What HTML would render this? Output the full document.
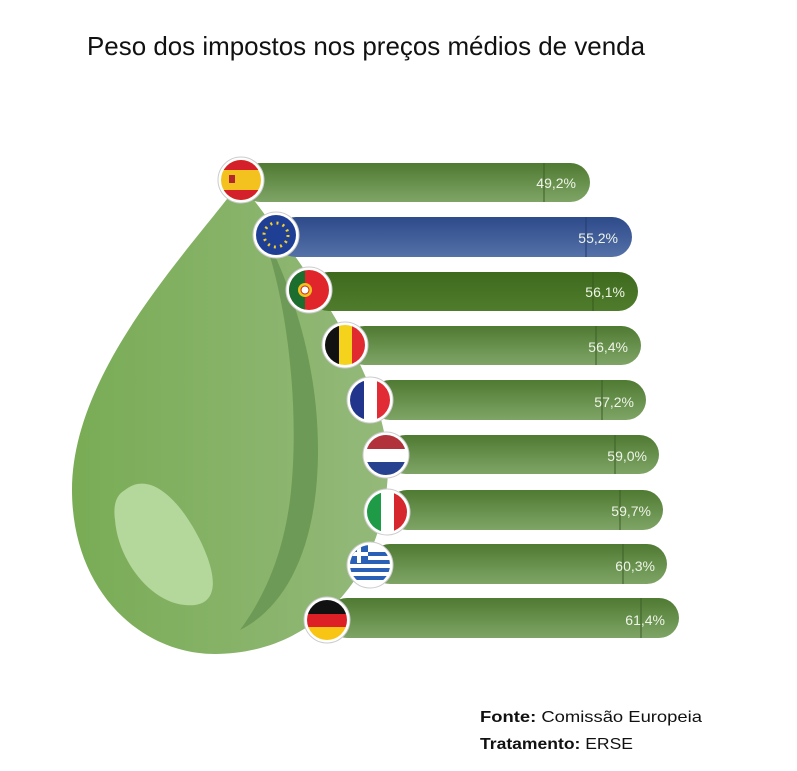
<!DOCTYPE html>
<html><head><meta charset="utf-8"><style>
body{margin:0;background:#fff;width:797px;height:766px;overflow:hidden;font-family:"Liberation Sans",sans-serif}
</style></head><body>
<svg width="797" height="766" viewBox="0 0 797 766" xmlns="http://www.w3.org/2000/svg">
<defs>
<linearGradient id="g" x1="0" y1="0" x2="0" y2="1"><stop offset="0" stop-color="#4f7a32"/><stop offset="1" stop-color="#7fa566"/></linearGradient>
<linearGradient id="pt" x1="0" y1="0" x2="0" y2="1"><stop offset="0" stop-color="#3e6a1e"/><stop offset="1" stop-color="#4f7c2c"/></linearGradient>
<linearGradient id="b" x1="0" y1="0" x2="0" y2="1"><stop offset="0" stop-color="#2d4a8a"/><stop offset="1" stop-color="#5571a8"/></linearGradient>
<linearGradient id="drop" x1="0" y1="0" x2="1" y2="0"><stop offset="0" stop-color="#79ac55"/><stop offset="1" stop-color="#94b97a"/></linearGradient>
<clipPath id="c"><circle r="20"/></clipPath>
</defs>
<text x="87" y="55" font-size="26" fill="#111" textLength="558" lengthAdjust="spacingAndGlyphs">Peso dos impostos nos preços médios de venda</text>
<path d="M240,182 C190,250 72,370 72,490 C72,590 140,654 215,654 C310,654 385,580 388,470 C390,380 300,260 240,182Z" fill="url(#drop)"/>
<path d="M258,222 C290,300 300,420 290,500 C282,560 262,600 240,630 C290,605 318,540 318,450 C318,360 290,280 258,222Z" fill="#6d9a56"/>
<path d="M125,490 C150,470 180,500 200,540 C222,585 215,608 185,605 C150,602 118,560 115,520 C113,505 116,495 125,490Z" fill="#b4d79b"/>
<g font-size="14" fill="#eef4e8" text-anchor="end">
<rect x="241" y="163" width="349" height="39" rx="19.5" fill="url(#g)"/><line x1="544" y1="163" x2="544" y2="202" stroke="#3c5e28"/><text x="576" y="188">49,2%</text>
<rect x="276" y="217" width="356" height="40" rx="20" fill="url(#b)"/><line x1="586" y1="217" x2="586" y2="257" stroke="#233c70"/><text x="618" y="243">55,2%</text>
<rect x="309" y="272" width="329" height="39" rx="19.5" fill="url(#pt)"/><line x1="593" y1="272" x2="593" y2="311" stroke="#365a1c"/><text x="625" y="297">56,1%</text>
<rect x="345" y="326" width="296" height="39" rx="19.5" fill="url(#g)"/><line x1="596" y1="326" x2="596" y2="365" stroke="#3c5e28"/><text x="628" y="352">56,4%</text>
<rect x="370" y="380" width="276" height="40" rx="20" fill="url(#g)"/><line x1="602" y1="380" x2="602" y2="420" stroke="#3c5e28"/><text x="634" y="407">57,2%</text>
<rect x="386" y="435" width="273" height="39" rx="19.5" fill="url(#g)"/><line x1="615" y1="435" x2="615" y2="474" stroke="#3c5e28"/><text x="647" y="461">59,0%</text>
<rect x="387" y="490" width="276" height="40" rx="20" fill="url(#g)"/><line x1="620" y1="490" x2="620" y2="530" stroke="#3c5e28"/><text x="651" y="516">59,7%</text>
<rect x="370" y="544" width="297" height="40" rx="20" fill="url(#g)"/><line x1="623" y1="544" x2="623" y2="584" stroke="#3c5e28"/><text x="655" y="571">60,3%</text>
<rect x="327" y="598" width="352" height="40" rx="20" fill="url(#g)"/><line x1="641" y1="598" x2="641" y2="638" stroke="#3c5e28"/><text x="665" y="625">61,4%</text>
</g>
<g transform="translate(241,180)"><circle r="23" fill="#fff" stroke="#ccc"/><g clip-path="url(#c)"><rect x="-20" y="-20" width="40" height="40" fill="#f4c21f"/><rect x="-20" y="-20" width="40" height="10" fill="#d3202a"/><rect x="-20" y="10" width="40" height="10" fill="#d3202a"/><rect x="-12" y="-5" width="6" height="8" fill="#b3262b"/></g></g>
<g transform="translate(276,235)"><circle r="23" fill="#fff" stroke="#ccc"/><g clip-path="url(#c)"><rect x="-20" y="-20" width="40" height="40" fill="#1f3f95"/></g><circle r="12" fill="none" stroke="#f4d02b" stroke-width="3" stroke-dasharray="2 4.3"/></g>
<g transform="translate(309,290)"><circle r="23" fill="#fff" stroke="#ccc"/><g clip-path="url(#c)"><rect x="-20" y="-20" width="40" height="40" fill="#e0262a"/><rect x="-20" y="-20" width="16" height="40" fill="#1b6e2e"/></g><circle cx="-4" cy="0" r="7" fill="#f1c21c"/><circle cx="-4" cy="0" r="4" fill="#fff" stroke="#c22"/></g>
<g transform="translate(345,345)"><circle r="23" fill="#fff" stroke="#ccc"/><g clip-path="url(#c)"><rect x="-20" y="-20" width="14" height="40" fill="#111"/><rect x="-6" y="-20" width="13" height="40" fill="#f5d21c"/><rect x="7" y="-20" width="13" height="40" fill="#e02a2f"/></g></g>
<g transform="translate(370,400)"><circle r="23" fill="#fff" stroke="#ccc"/><g clip-path="url(#c)"><rect x="-20" y="-20" width="14" height="40" fill="#21358c"/><rect x="-6" y="-20" width="13" height="40" fill="#fff"/><rect x="7" y="-20" width="13" height="40" fill="#e12b35"/></g></g>
<g transform="translate(386,455)"><circle r="23" fill="#fff" stroke="#ccc"/><g clip-path="url(#c)"><rect x="-20" y="-20" width="40" height="14" fill="#b2323b"/><rect x="-20" y="-6" width="40" height="13" fill="#fff"/><rect x="-20" y="7" width="40" height="13" fill="#27428f"/></g></g>
<g transform="translate(387,512)"><circle r="23" fill="#fff" stroke="#ccc"/><g clip-path="url(#c)"><rect x="-20" y="-20" width="14" height="40" fill="#1f9a46"/><rect x="-6" y="-20" width="13" height="40" fill="#fff"/><rect x="7" y="-20" width="13" height="40" fill="#d6262e"/></g></g>
<g transform="translate(370,565)"><circle r="23" fill="#fff" stroke="#ccc"/><g clip-path="url(#c)"><rect x="-20" y="-20" width="40" height="40" fill="#fff"/><rect x="-20" y="-13" width="40" height="4" fill="#2a60b5"/><rect x="-20" y="-5" width="40" height="4" fill="#2a60b5"/><rect x="-20" y="3" width="40" height="4" fill="#2a60b5"/><rect x="-20" y="11" width="40" height="4" fill="#2a60b5"/><rect x="-20" y="-20" width="18" height="18" fill="#2a60b5"/><rect x="-13" y="-20" width="4" height="18" fill="#fff"/><rect x="-20" y="-13" width="18" height="4" fill="#fff"/></g></g>
<g transform="translate(327,620)"><circle r="23" fill="#fff" stroke="#ccc"/><g clip-path="url(#c)"><rect x="-20" y="-20" width="40" height="14" fill="#111"/><rect x="-20" y="-6" width="40" height="13" fill="#dd1f26"/><rect x="-20" y="7" width="40" height="13" fill="#f8c515"/></g></g>
<text x="480" y="722" font-size="16" fill="#111" textLength="222" lengthAdjust="spacingAndGlyphs"><tspan font-weight="bold">Fonte:</tspan> Comissão Europeia</text>
<text x="480" y="749" font-size="16" fill="#111" textLength="153" lengthAdjust="spacingAndGlyphs"><tspan font-weight="bold">Tratamento:</tspan> ERSE</text>
</svg>
</body></html>
